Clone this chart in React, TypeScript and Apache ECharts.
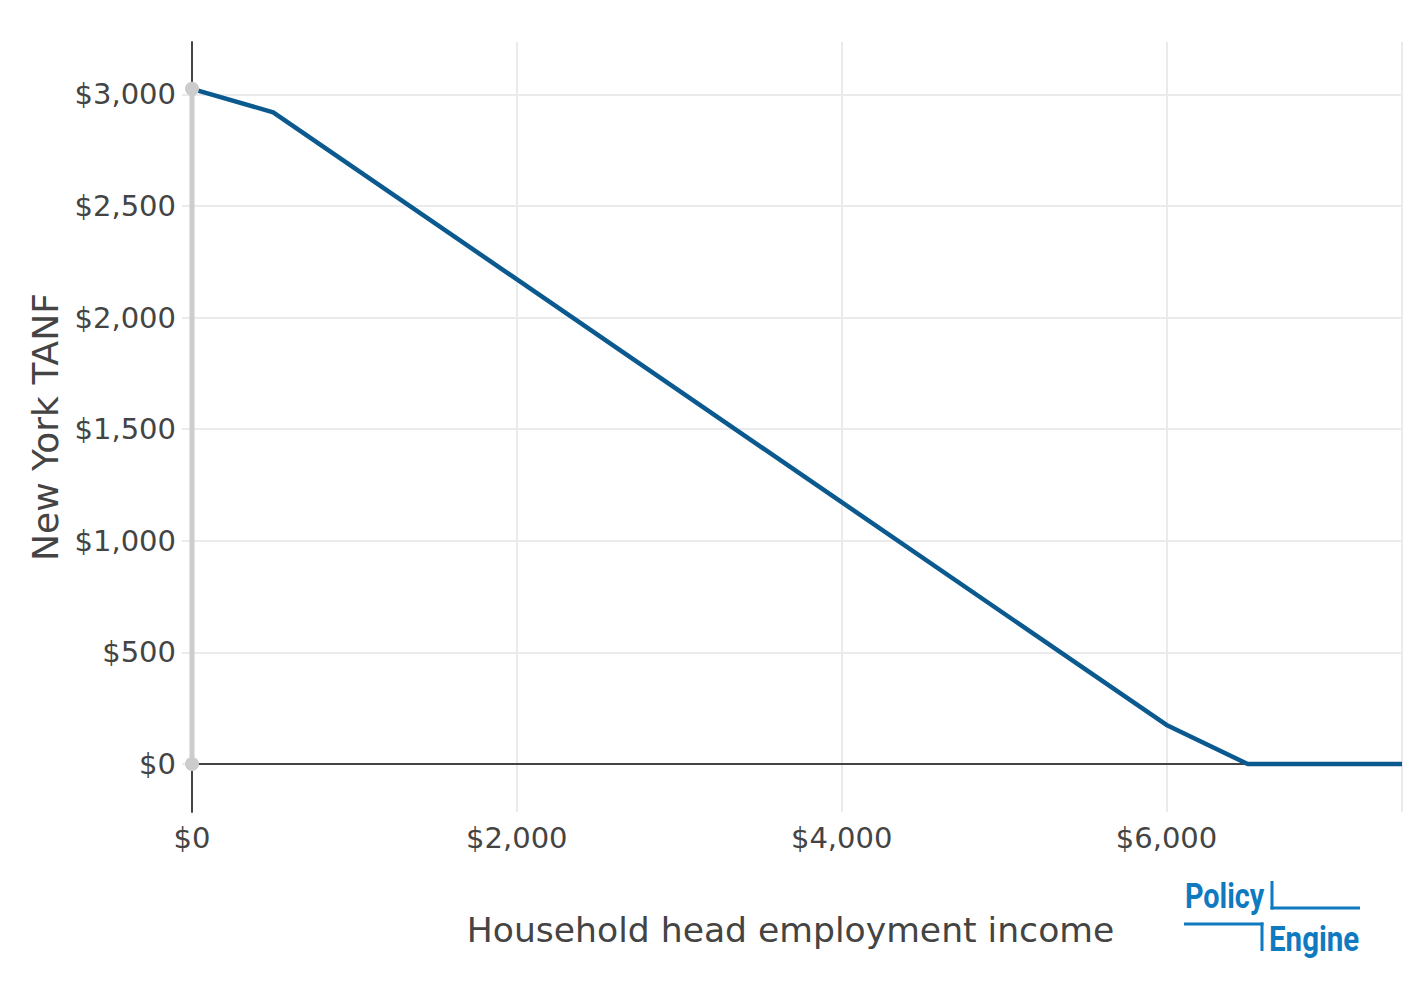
import React, { useEffect, useRef } from "react";
import * as echarts from "echarts";

const incomeValues = [0, 500, 6000, 6500, 7450];
const tanfValues = [3025, 2920, 175, 0, 0];
const markerX = [0, 0];
const markerY = [0, 3025];
const xTicks = [0, 2000, 4000, 6000];
const yTicks = [0, 500, 1000, 1500, 2000, 2500, 3000];

const fmt = (v: number) => "$" + Math.round(v).toLocaleString("en-US");

export default function App() {
  const ref = useRef<HTMLDivElement>(null);
  useEffect(() => {
    if (!ref.current) return;
    const chart = echarts.init(ref.current, undefined, { renderer: "svg" });
    const font = "DejaVu Sans";
    const blue = "#0f7ac0";
    chart.setOption({
      animation: false,
      backgroundColor: "#ffffff",
      grid: { left: 192, top: 42, width: 1210, height: 770, containLabel: false },
      xAxis: {
        type: "value",
        min: 0,
        max: 7450,
        interval: 2000,
        name: "Household head employment income",
        nameLocation: "middle",
        nameGap: 100,
        nameTextStyle: { fontFamily: font, fontSize: 34.6, color: "#444", padding: [0, 13, 0, 0] },
        axisLine: { show: false, onZero: false },
        axisTick: { show: false },
        axisLabel: {
          fontFamily: font,
          fontSize: 29,
          color: "#444",
          margin: 11,
          showMaxLabel: false,
          formatter: (v: number) => (xTicks.includes(v) ? fmt(v) : ""),
        },
        splitLine: { show: true, showMinLine: false, lineStyle: { color: "#ebebeb", width: 2 } },
      },
      yAxis: {
        type: "value",
        min: -215,
        max: 3235,
        splitNumber: 7,
        name: "New York TANF",
        nameLocation: "middle",
        nameGap: 128,
        nameRotate: 90,
        nameTextStyle: { fontFamily: font, fontSize: 36, color: "#444" },
        axisLine: { show: true, onZero: false, lineStyle: { color: "#444", width: 2 } },
        axisTick: { show: true, length: 10, lineStyle: { color: "#ebebeb", width: 2 } },
        axisLabel: {
          fontFamily: font,
          fontSize: 29,
          color: "#444",
          margin: 16,
          padding: [4, 0, 0, 0],
          showMinLabel: false,
          showMaxLabel: false,
          formatter: (v: number) => (yTicks.includes(v) ? fmt(v) : ""),
        },
        splitLine: {
          show: true,
          showMinLine: false,
          showMaxLine: false,
          lineStyle: { color: "#ebebeb", width: 2 },
        },
      },
      series: [
        {
          type: "line",
          data: incomeValues.map((x, i) => [x, tanfValues[i]]),
          showSymbol: false,
          symbol: "none",
          lineStyle: { color: "#0b5a8f", width: 4.5 },
          z: 3,
          markLine: {
            silent: true,
            symbol: "none",
            label: { show: false },
            lineStyle: { color: "#444", width: 2, type: "solid" },
            data: [{ yAxis: 0 }],
            z: 2,
          },
        },
        {
          type: "line",
          data: markerX.map((x, i) => [x, markerY[i]]),
          symbol: "circle",
          symbolSize: 14,
          showSymbol: true,
          lineStyle: { color: "#cccccc", width: 5 },
          itemStyle: { color: "#cccccc" },
          z: 4,
        },
      ],
      graphic: [
        {
          type: "text",
          z: 10,
          scaleX: 0.8,
          x: 1185,
          y: 896,
          style: {
            text: "Policy",
            x: 0,
            y: 0,
            fontFamily: "Roboto",
            fontWeight: "bold",
            fontSize: 36,
            fill: blue,
            textAlign: "left",
            textVerticalAlign: "middle",
          },
        },
        {
          type: "text",
          z: 10,
          scaleX: 0.82,
          x: 1269,
          y: 938,
          style: {
            text: "Engine",
            x: 0,
            y: 0,
            fontFamily: "Roboto",
            fontWeight: "bold",
            fontSize: 36,
            fill: blue,
            textAlign: "left",
            textVerticalAlign: "middle",
          },
        },
        { type: "line", z: 10, shape: { x1: 1272, y1: 881, x2: 1272, y2: 909.5 }, style: { stroke: blue, lineWidth: 3 } },
        { type: "line", z: 10, shape: { x1: 1270.5, y1: 908, x2: 1360, y2: 908 }, style: { stroke: blue, lineWidth: 3 } },
        { type: "line", z: 10, shape: { x1: 1184, y1: 924, x2: 1263.5, y2: 924 }, style: { stroke: blue, lineWidth: 3 } },
        { type: "line", z: 10, shape: { x1: 1262, y1: 922.5, x2: 1262, y2: 951 }, style: { stroke: blue, lineWidth: 3 } },
      ],
    });
    return () => chart.dispose();
  }, []);
  return (
    <div
      ref={ref}
      style={{ position: "fixed", left: 0, top: 0, width: 1424, height: 988, background: "#fff" }}
    />
  );
}
